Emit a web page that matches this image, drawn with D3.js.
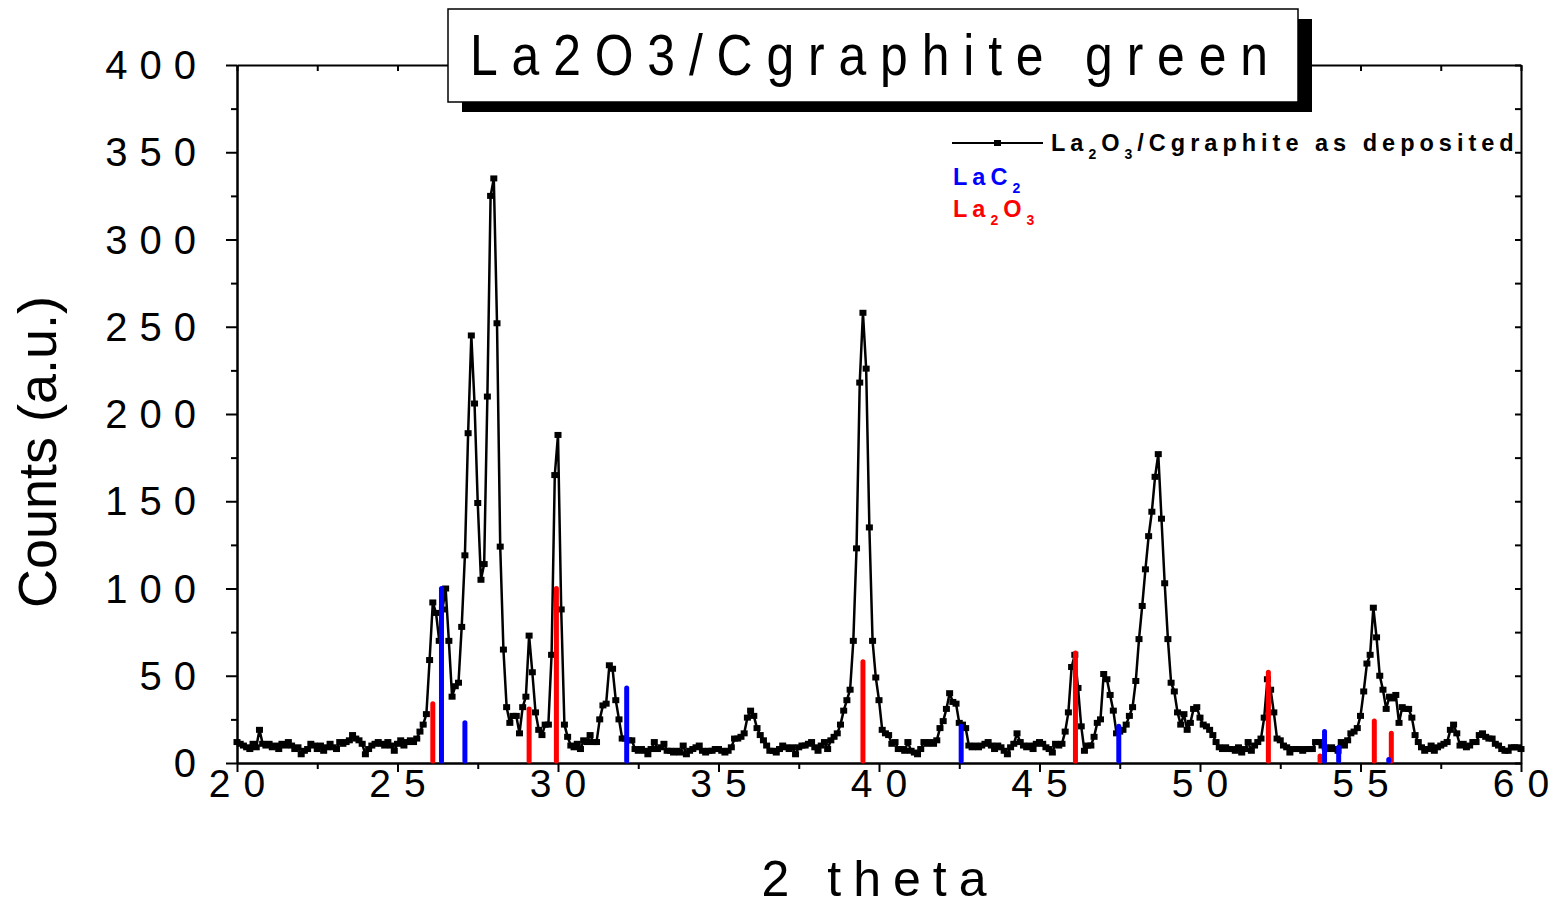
<!DOCTYPE html>
<html lang="en">
<head>
<meta charset="UTF-8">
<script src="https://d3js.org/d3.v7.min.js"></script>
<title>La2O3/Cgraphite green</title>
<style>
  body { margin: 0; background: #fff; }
  svg { display: block; font-family: "Liberation Sans", Arial, sans-serif; }
  .axis path, .axis line { stroke: #000; stroke-width: 2px; }
  .tick-label { font-size: 40px; fill: #000; }
</style>
</head>
<body>
<div id="chart"></div>
<script>
// 2 theta scan, one reading every 0.1 degree from 20 to 60
const thetaStart = 20;
const thetaStep = 0.1;
const counts = [
  12, 11, 10, 9, 8, 11, 9, 19, 11, 10,        // 20
  11, 9, 10, 8, 11, 10, 12, 10, 8, 9,         // 21
  5, 7, 8, 11, 10, 8, 10, 7, 9, 11,           // 22
  9, 8, 12, 11, 12, 13, 16, 14, 13, 11,       // 23
  5, 8, 10, 11, 12, 11, 10, 12, 10, 7,        // 24
  11, 13, 10, 12, 13, 12, 14, 18, 22, 28,     // 25
  59, 92, 86, 70, 88, 100, 70, 38, 44, 46,    // 26
  78, 119, 189, 245, 206, 149, 105, 114, 210, 325, // 27
  335, 252, 124, 65, 32, 23, 27, 27, 17, 32,  // 28
  38, 73, 52, 29, 19, 16, 22, 22, 62, 165,    // 29
  188, 88, 22, 15, 10, 9, 11, 8, 13, 12,      // 30
  16, 12, 12, 25, 33, 34, 56, 54, 36, 25,     // 31
  14, 14, 13, 13, 8, 7, 8, 7, 5, 8,           // 32
  12, 8, 9, 11, 7, 7, 6, 7, 6, 10,            // 33
  5, 7, 8, 9, 10, 7, 6, 7, 7, 8,              // 34
  8, 7, 6, 7, 9, 14, 14, 15, 17, 26,          // 35
  30, 27, 20, 16, 13, 10, 7, 7, 6, 8,         // 36
  10, 9, 8, 9, 5, 9, 10, 10, 11, 12,          // 37
  9, 7, 10, 12, 8, 13, 15, 17, 22, 30,        // 38
  36, 42, 70, 123, 218, 258, 226, 135, 70, 49, // 39
  36, 19, 17, 16, 11, 12, 8, 8, 7, 12,        // 40
  7, 6, 5, 8, 12, 11, 12, 11, 13, 20,         // 41
  24, 31, 40, 35, 34, 23, 22, 20, 10, 9,      // 42
  10, 9, 10, 11, 12, 10, 8, 10, 9, 7,         // 43
  5, 9, 11, 17, 12, 10, 9, 10, 8, 11,         // 44
  12, 11, 9, 8, 6, 11, 10, 11, 18, 29,        // 45
  55, 62, 43, 21, 7, 10, 10, 15, 23, 25,      // 46
  51, 48, 39, 30, 17, 18, 19, 22, 27, 32,     // 47
  47, 71, 90, 111, 130, 144, 164, 177, 140, 103, // 48
  71, 46, 41, 29, 22, 28, 19, 23, 31, 32,     // 49
  26, 22, 21, 19, 16, 12, 9, 8, 9, 8,         // 50
  8, 7, 9, 6, 8, 12, 7, 10, 12, 14,           // 51
  26, 48, 42, 29, 14, 13, 10, 9, 6, 8,        // 52
  8, 8, 7, 8, 8, 8, 12, 12, 10, 9,            // 53
  8, 9, 8, 7, 12, 10, 13, 17, 18, 20,         // 54
  27, 41, 57, 62, 89, 72, 50, 42, 31, 38,     // 55
  37, 39, 23, 32, 31, 31, 26, 16, 12, 9,      // 56
  7, 8, 10, 7, 9, 10, 11, 12, 19, 22,         // 57
  17, 10, 11, 9, 10, 12, 12, 16, 17, 15,      // 58
  14, 14, 11, 10, 8, 7, 7, 9, 9, 9,           // 59
  8                                           // 60
];

// reference lines
const lac2Theta = [26.37, 27.1, 32.14, 42.56, 47.47, 53.88, 54.32, 55.88];
const lac2Height = [100, 23, 43, 21, 21, 18, 9, 2];
const la2o3Theta = [26.1, 29.1, 29.95, 39.5, 46.12, 52.13, 53.74, 55.43, 55.96];
const la2o3Height = [34, 31, 100, 58, 63, 52, 4, 24, 17];

const xMajor = [20, 25, 30, 35, 40, 45, 50, 55, 60];
const yMajor = [0, 50, 100, 150, 200, 250, 300, 350, 400];

const width = 1551, height = 906;
const margin = {left: 237, right: 30, top: 65, bottom: 143};

const svg = d3.select("#chart").append("svg")
    .attr("width", width)
    .attr("height", height);

const x = d3.scaleLinear().domain([20, 60]).range([margin.left, width - margin.right]);
const y = d3.scaleLinear().domain([0, 400]).range([height - margin.bottom, margin.top]);

const x0 = x.range()[0], x1 = x.range()[1];
const y0 = y.range()[0], y1 = y.range()[1];

const xMinor = d3.range(22.5, 60, 5);
const yMinor = d3.range(25, 400, 50);

// bottom axis, ticks outward
svg.append("g").attr("class", "axis").attr("transform", `translate(0,${y0})`)
    .call(d3.axisBottom(x).tickValues(xMajor).tickSize(9).tickFormat("").tickSizeOuter(0));
svg.append("g").attr("class", "axis").attr("transform", `translate(0,${y0})`)
    .call(d3.axisBottom(x).tickValues(xMinor).tickSize(6).tickFormat("").tickSizeOuter(0));
// top axis, ticks inward
svg.append("g").attr("class", "axis").attr("transform", `translate(0,${y1})`)
    .call(d3.axisBottom(x).tickValues(xMajor.concat(xMinor)).tickSize(6).tickFormat("").tickSizeOuter(0));
// left axis, ticks outward
svg.append("g").attr("class", "axis").attr("transform", `translate(${x0},0)`)
    .call(d3.axisLeft(y).tickValues(yMajor).tickSize(11).tickFormat("").tickSizeOuter(0));
svg.append("g").attr("class", "axis").attr("transform", `translate(${x0},0)`)
    .call(d3.axisLeft(y).tickValues(yMinor).tickSize(6).tickFormat("").tickSizeOuter(0));
// right axis, ticks inward
svg.append("g").attr("class", "axis").attr("transform", `translate(${x1},0)`)
    .call(d3.axisLeft(y).tickValues(yMajor.concat(yMinor)).tickSize(6).tickFormat("").tickSizeOuter(0));

// spaced-out digits; no spacing after the last one
const spaced = (sel, ls) => {
    sel.append("tspan").style("letter-spacing", ls + "px").text(d => String(d).slice(0, -1));
    sel.append("tspan").text(d => String(d).slice(-1));
};

svg.append("g").selectAll("text")
    .data(yMajor)
    .enter()
    .append("text")
    .attr("class", "tick-label")
    .attr("x", 196)
    .attr("y", d => y(d) + 14)
    .attr("text-anchor", "end")
    .call(spaced, 12);

svg.append("g").selectAll("text")
    .data(xMajor)
    .enter()
    .append("text")
    .attr("class", "tick-label")
    .style("font-size", "39px")
    .attr("x", d => x(d))
    .attr("y", y0 + 34)
    .attr("text-anchor", "middle")
    .call(spaced, 13);

// axis titles
svg.append("text")
    .attr("transform", `translate(56,452) rotate(-90)`)
    .attr("text-anchor", "middle")
    .style("font-size", "54px")
    .text("Counts (a.u.)");

svg.append("text")
    .attr("x", 874 + 6)
    .attr("y", 896)
    .attr("text-anchor", "middle")
    .style("font-size", "50px")
    .style("letter-spacing", "12px")
    .text("2 theta");

// data line and square markers
const pts = counts.map((c, i) => ({t: thetaStart + i * thetaStep, c: c}));

const line = d3.line().x(d => x(d.t)).y(d => y(d.c));

svg.append("path")
    .datum(pts)
    .attr("d", line)
    .attr("fill", "none")
    .attr("stroke", "#000")
    .attr("stroke-width", 2.5)
    .attr("stroke-linejoin", "round");

svg.append("g").selectAll("rect")
    .data(pts)
    .enter()
    .append("rect")
    .attr("x", d => x(d.t) - 3.5)
    .attr("y", d => y(d.c) - 3)
    .attr("width", 7)
    .attr("height", 6)
    .attr("fill", "#000");

// reference sticks
const drawSticks = (pos, hts, color) => {
    svg.append("g").selectAll("line")
        .data(pos)
        .enter()
        .append("line")
        .attr("x1", d => x(d))
        .attr("x2", d => x(d))
        .attr("y1", y(0) - 2)
        .attr("y2", (d, i) => y(hts[i]))
        .attr("stroke", color)
        .attr("stroke-width", 5)
        .attr("stroke-linecap", "round");
};
drawSticks(la2o3Theta, la2o3Height, "#ff0000");
drawSticks(lac2Theta, lac2Height, "#0000ff");

// title box with drop shadow
svg.append("rect").attr("x", 462).attr("y", 19).attr("width", 850).attr("height", 93).attr("fill", "#000");
svg.append("rect").attr("x", 448).attr("y", 9).attr("width", 850).attr("height", 93)
    .attr("fill", "#fff").attr("stroke", "#000").attr("stroke-width", 1.5);
svg.append("text")
    .attr("transform", "translate(470,75) scale(0.86,1)")
    .attr("textLength", 798 / 0.86)
    .attr("lengthAdjust", "spacing")
    .style("font-size", "58px")
    .text("La2O3/Cgraphite green");

// legend
const lg = svg.append("g").style("font-weight", "bold").style("font-size", "23.5px").style("letter-spacing", "5px");
lg.append("line").attr("x1", 952).attr("x2", 1043).attr("y1", 143).attr("y2", 143)
    .attr("stroke", "#000").attr("stroke-width", 2);
lg.append("rect").attr("x", 994).attr("y", 140).attr("width", 7).attr("height", 6).attr("fill", "#000");

const legendRows = [
    {y: 151, color: "#000", parts: [["La", 0], ["2", 1], ["O", 0], ["3", 1], ["/Cgraphite as deposited", 0]]},
    {y: 185, color: "#0000ff", parts: [["LaC", 0], ["2", 1]]},
    {y: 217, color: "#ff0000", parts: [["La", 0], ["2", 1], ["O", 0], ["3", 1]]}
];
legendRows.forEach((row, k) => {
    const t = lg.append("text")
        .attr("x", k === 0 ? 1051 : 953)
        .attr("y", row.y)
        .attr("fill", row.color);
    let prevSub = 0;
    row.parts.forEach(p => {
        t.append("tspan")
            .attr("dy", p[1] ? 8 : (prevSub ? -8 : 0))
            .style("font-size", p[1] ? "14px" : null)
            .text(p[0]);
        prevSub = p[1];
    });
});
</script>
</body>
</html>
